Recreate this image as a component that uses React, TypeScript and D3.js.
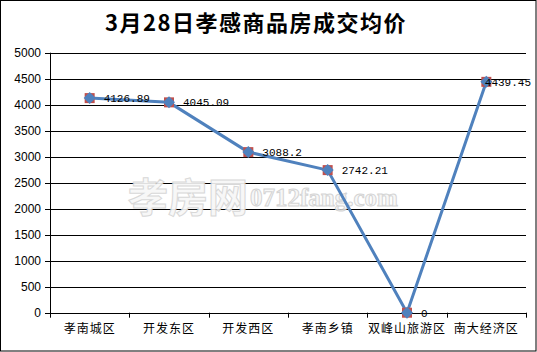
import React from "react";
import * as d3 from "d3";

const categories = ["孝南城区", "开发东区", "开发西区", "孝南乡镇", "双峰山旅游区", "南大经济区"];
const prices = [4126.89, 4045.09, 3088.2, 2742.21, 0, 4439.45];
const priceLabels = ["4126.89", "4045.09", "3088.2", "2742.21", "0", "4439.45"];
const yTicks = [0, 500, 1000, 1500, 2000, 2500, 3000, 3500, 4000, 4500, 5000];

const W = 537;
const H = 352;
const margin = { top: 52.7, right: 11, bottom: 39.3, left: 50 };

export default function App() {
  const x = d3
    .scaleBand<string>()
    .domain(categories)
    .range([margin.left, W - margin.right]);
  const y = d3
    .scaleLinear()
    .domain([0, 5000])
    .range([H - margin.bottom, margin.top]);

  const cx = (c: string) => (x(c) as number) + x.bandwidth() / 2;
  const line = d3
    .line<number>()
    .x((d, i) => cx(categories[i]))
    .y((d) => y(d));

  const blue = "#4F81BD";
  const red = "#C0504D";
  const x0 = margin.left;
  const x1 = W - margin.right;
  const yBase = y(0);

  return (
    <svg
      width={W}
      height={H}
      style={{ position: "absolute", left: 0, top: 0, background: "#fff" }}
    >
      <rect x={0.5} y={0.5} width={W - 1.5} height={H - 1.5} fill="#fff" stroke="#000" strokeWidth={1} />

      <text
        x={256}
        y={31}
        textAnchor="middle"
        fontFamily="'Noto Sans CJK SC', sans-serif"
        fontWeight="bold"
        fontSize={22}
        letterSpacing={1.5}
        fill="#000"
      >
        3月28日孝感商品房成交均价
      </text>

      {/* gridlines + y axis */}
      {yTicks.map((t) => (
        <g key={t}>
          <line x1={x0 - 5} x2={t === 0 ? x0 : x1} y1={Math.round(y(t)) + 0.5} y2={Math.round(y(t)) + 0.5} stroke="#000" />
          <text
            x={x0 - 9}
            y={y(t)}
            dy="0.35em"
            textAnchor="end"
            fontFamily="'Liberation Sans', Arial, sans-serif"
            fontSize={12}
            fill="#000"
          >
            {t}
          </text>
        </g>
      ))}
      <line x1={x0 + 0.5} x2={x0 + 0.5} y1={y(5000)} y2={yBase + 5} stroke="#000" />

      {/* x axis */}
      <line x1={x0} x2={x1} y1={Math.round(yBase) + 0.5} y2={Math.round(yBase) + 0.5} stroke="#000" />
      {categories.map((c) => {
        const tx = Math.round((x(c) as number) + x.bandwidth()) + 0.5;
        return <line key={"t" + c} x1={tx} x2={tx} y1={yBase} y2={yBase + 5} stroke="#000" />;
      })}
      {categories.map((c) => (
        <text
          key={"l" + c}
          x={cx(c)}
          y={333}
          textAnchor="middle"
          fontFamily="'Noto Sans CJK SC', sans-serif"
          fontSize={12}
          letterSpacing={1}
          fill="#000"
        >
          {c}
        </text>
      ))}

      {/* watermark */}
      <g opacity={0.9}>
        <text
          x={128}
          y={212}
          fontFamily="'Noto Sans CJK SC', sans-serif"
          fontWeight="bold"
          fontSize={40}
          fill="#f7f7f7"
          stroke="#d4d4d4"
          strokeWidth={1}
        >
          孝房网
        </text>
        <text
          x={250}
          y={206}
          fontFamily="'Liberation Serif', serif"
          fontWeight="bold"
          fontSize={25}
          fill="#f7f7f7"
          stroke="#d0d0d0"
          strokeWidth={1}
        >
          0712fang.com
        </text>
      </g>

      <path d={line(prices) ?? ""} fill="none" stroke={blue} strokeWidth={3} strokeLinejoin="round" />

      {prices.map((v, i) => {
        const px = cx(categories[i]);
        const py = y(v);
        return (
          <g key={"m" + i}>
            <rect x={px - 5} y={py - 5} width={10} height={10} fill={red} />
            <path d={`M${px},${py - 6}L${px + 6},${py}L${px},${py + 6}L${px - 6},${py}Z`} fill={blue} />
          </g>
        );
      })}

      {prices.map((v, i) => {
        const px = cx(categories[i]);
        const w = priceLabels[i].length * 6.6;
        const lx = Math.min(px + 14, W - 6 - w);
        return (
          <text
            key={"d" + i}
            x={lx}
            y={y(v)}
            dy="0.35em"
            fontFamily="'Liberation Mono', monospace"
            fontSize={11}
            fill="#000"
          >
            {priceLabels[i]}
          </text>
        );
      })}
    </svg>
  );
}
